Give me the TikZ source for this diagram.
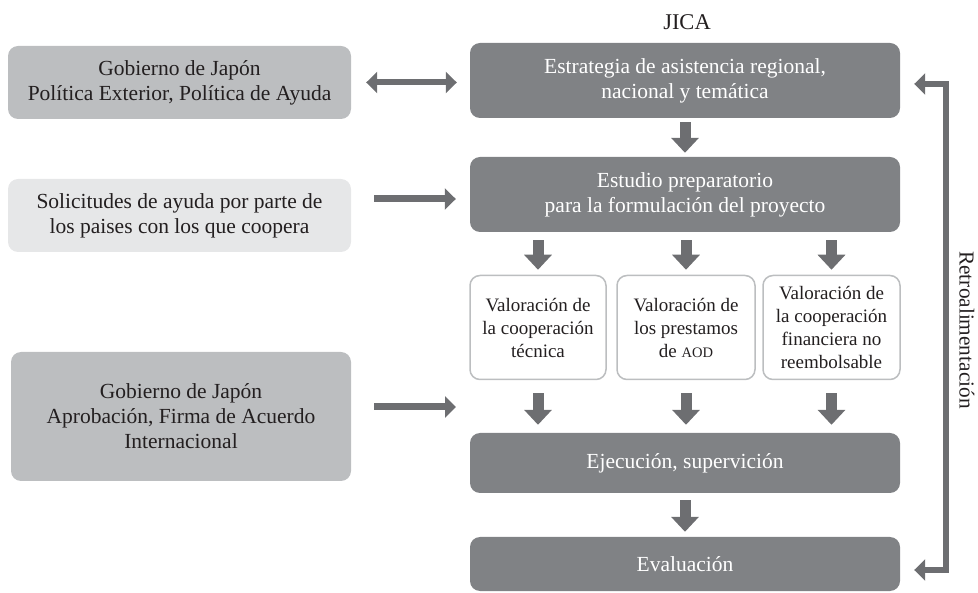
\documentclass[tikz,border=0pt]{standalone}
\usepackage{fontspec}
\setmainfont{Liberation Serif}
\usepackage{xcolor}
\usetikzlibrary{calc, positioning, arrows.meta}
\definecolor{grisclaro}{HTML}{E6E7E8}
\definecolor{grismedio}{HTML}{BCBEC0}
\definecolor{grisoscuro}{HTML}{808285}
\definecolor{gristexto}{HTML}{231F20}
\definecolor{grisflecha}{HTML}{6D6E71}

\begin{document}
\begin{tikzpicture}
      [x=1pt, y=-1pt,
       caja/.style={rectangle, rounded corners=10pt, align=center, inner sep=0pt,
                    font=\fontsize{21.5}{25}\selectfont},
       gobierno/.style={caja, fill=grismedio, text=gristexto},
       solicitud/.style={caja, fill=grisclaro, text=gristexto},
       jica/.style={caja, fill=grisoscuro, text=white, minimum width=430pt},
       valor/.style={caja, draw=grismedio, line width=1.5pt, fill=white, text=gristexto,
                     minimum height=104pt, font=\fontsize{19}{23}\selectfont},
       flecha/.style={draw=grisflecha, line width=7pt, -{Triangle[length=11pt,width=21pt]}},
       bajada/.style={draw=grisflecha, line width=11pt, -{Triangle[length=15pt,width=27pt]}},
       retroflecha/.style={draw=grisflecha, line width=6pt, line join=miter,
                           {Triangle[length=11pt,width=21pt]}-{Triangle[length=11pt,width=21pt]}}]
      \useasboundingbox (0,0) rectangle (978,593);

      % nodes %
      \node[font=\fontsize{22.5}{26}\selectfont, text=gristexto] (jica) at (687,22) {JICA};
      \node[gobierno, minimum width=343pt, minimum height=73pt] (gobpol) at (179.5,82.5)
           {Gobierno de Japón\\Política Exterior, Política de Ayuda};
      \node[solicitud, minimum width=343pt, minimum height=73pt] (solicitud) at (179.5,215.5)
           {Solicitudes de ayuda por parte de\\los paises con los que coopera};
      \node[gobierno, minimum width=340pt, minimum height=129pt] (gobaprob) at (181,416.5)
           {Gobierno de Japón\\Aprobación, Firma de Acuerdo\\Internacional};

      \node[jica, minimum height=75pt] (estrategia) at (685,80.5)
           {Estrategia de asistencia regional,\\nacional y temática};
      \node[jica, minimum height=75pt] (estudio) at (685,194.5)
           {Estudio preparatorio\\para la formulación del proyecto};
      \node[valor, minimum width=136pt] (val1) at (538,327.5)
           {Valoración de\\la cooperación\\técnica};
      \node[valor, minimum width=138pt] (val2) at (686,327.5)
           {Valoración de\\los prestamos\\de {\fontsize{14.5}{14.5}\selectfont AOD}};
      \node[valor, minimum width=137pt] (val3) at (831.5,327.5)
           {Valoración de\\la cooperación\\financiera no\\reembolsable};
      \node[jica, minimum height=60pt] (ejecucion) at (685,463)
           {Ejecución, supervición};
      \node[jica, minimum height=54pt] (evaluacion) at (685,564)
           {Evaluación};

      \coordinate (entrada) at (456,407);
      \coordinate (retro) at (946,330);
      \node[rotate=-90, font=\fontsize{21.3}{25}\selectfont, text=gristexto] (retrotexto) at (967,330)
           {Retroalimentación};

      % edges %
      \draw[retroflecha, shorten <=15pt, shorten >=13pt] (gobpol.east) -- (gobpol.east -| estrategia.west);
      \draw[flecha, shorten <=23pt, shorten >=14pt]
           ($(solicitud.east |- estudio.west)+(0,4.5)$) -- ($(estudio.west)+(0,4.5)$);
      \draw[flecha, shorten <=23pt] (gobaprob.east |- entrada) -- (entrada);

      \draw[bajada, shorten <=4pt, shorten >=4pt] (estrategia) -- (estudio);
      \foreach \v in {val1,val2,val3}
        {
        \draw[bajada, shorten <=8pt, shorten >=5pt] (estudio.south -| \v) -- (\v.north);
        \draw[bajada, shorten <=13pt, shorten >=8pt] (\v.south) -- (\v.south |- ejecucion.north);
        }
      \draw[bajada, shorten <=7pt, shorten >=5pt] (ejecucion) -- (evaluacion);

      \draw[retroflecha] ($(evaluacion.east)+(14,6)$) -| (retro) |- ($(estrategia.east)+(14,3.5)$);

    \end{tikzpicture}
\end{document}
